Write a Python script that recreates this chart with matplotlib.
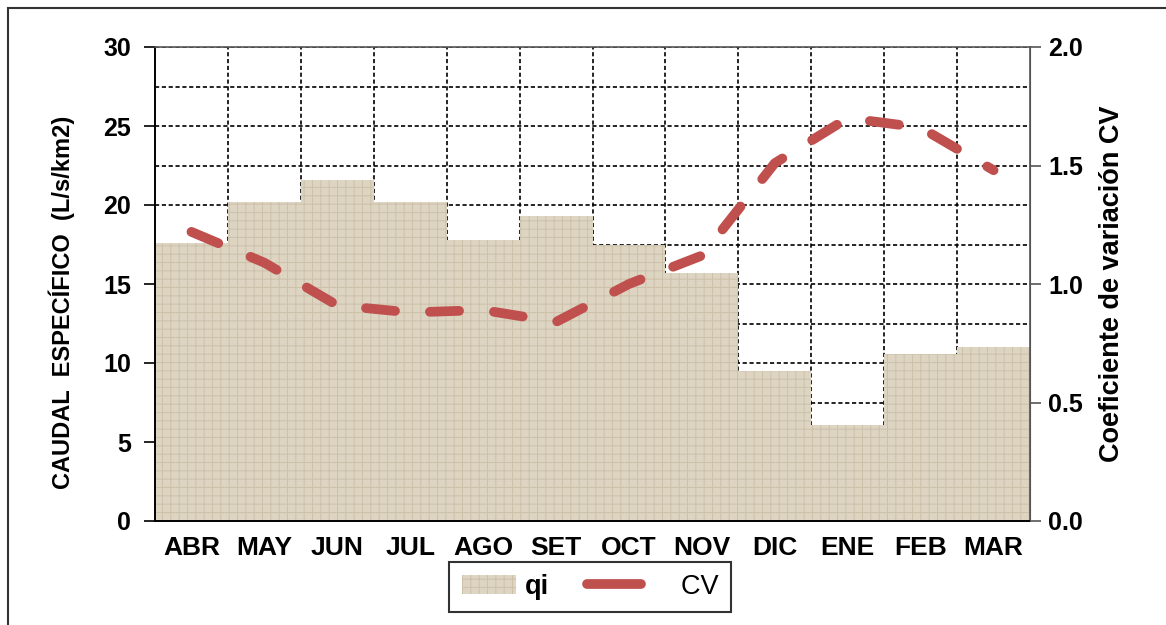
import numpy as np
import matplotlib
matplotlib.use("Agg")
import matplotlib.pyplot as plt
from matplotlib.lines import Line2D
from matplotlib.patches import Patch, Rectangle

plt.rcParams['font.family'] = ['Liberation Sans', 'DejaVu Sans']
plt.rcParams['hatch.linewidth'] = 0.7

# data
months = ['ABR', 'MAY', 'JUN', 'JUL', 'AGO', 'SET', 'OCT', 'NOV', 'DIC', 'ENE', 'FEB', 'MAR']
qi = [17.6, 20.2, 21.6, 20.2, 17.8, 19.3, 17.5, 15.7, 9.5, 6.1, 10.6, 11.0]
cv = [1.22, 1.09, 0.91, 0.88, 0.89, 0.84, 1.00, 1.12, 1.51, 1.70, 1.66, 1.48]

BAR_COL = '#ddd4c2'
HATCH_COL = '#cdc1aa'
LINE_COL = '#c0504d'

fig = plt.figure(figsize=(11.66, 6.25), dpi=100)
ax = fig.add_axes([0.1329, 0.1664, 0.7505, 0.7584])
x = np.arange(len(months))

ax.bar(x, qi, width=1.0, color=BAR_COL, hatch='++', edgecolor=HATCH_COL,
       linewidth=0, zorder=2)
ax.set_xlim(-0.5, len(months) - 0.5)
ax.set_ylim(0, 30)
ax.set_yticks(np.arange(0, 31, 5))
ax.set_yticks(np.arange(0, 30.1, 2.5), minor=True)
ax.set_xticks(x)
ax.set_xticks(np.arange(0.5, len(months) - 1, 1), minor=True)
ax.set_xticklabels(months)

gl = dict(color='black', linestyle=(0, (2.5, 1.6)), linewidth=1.2)
ax.grid(True, which='both', axis='y', **gl)
ax.grid(True, which='minor', axis='x', **gl)
ax.grid(False, which='major', axis='x')
ax.set_axisbelow(True)

ax.tick_params(axis='y', which='major', direction='out', length=8, width=1.2,
               labelsize=18, pad=9)
ax.tick_params(axis='y', which='minor', length=0)
ax.tick_params(axis='x', which='both', length=0, labelsize=19, pad=11)
for lab in ax.get_xticklabels() + ax.get_yticklabels():
    lab.set_fontweight('bold')

for side in ['left', 'bottom']:
    ax.spines[side].set_color('black')
    ax.spines[side].set_linewidth(1.4)
for side in ['top', 'right']:
    ax.spines[side].set_color('#555555')
    ax.spines[side].set_linewidth(1.2)

ax.set_ylabel('CAUDAL  ESPECÍFICO  (L/s/km2)', fontsize=17, fontweight='bold')
ax.yaxis.set_label_coords(-0.091, 0.462)

ax2 = ax.twinx()
ax2.plot(x, cv, color=LINE_COL, linewidth=7, linestyle=(0, (3.0, 3.6)),
         dash_capstyle='round', solid_capstyle='round')
ax2.set_ylim(0, 2.0)
ax2.set_yticks(np.arange(0, 2.01, 0.5))
ax2.set_yticklabels([f'{v:.1f}' for v in np.arange(0, 2.01, 0.5)])
ax2.tick_params(axis='y', direction='out', length=8, width=1.2, color='#555555',
                labelsize=18, pad=5)
for lab in ax2.get_yticklabels():
    lab.set_fontweight('bold')
for side in ['left', 'bottom', 'top']:
    ax2.spines[side].set_visible(False)
ax2.spines['right'].set_color('#555555')
ax2.set_ylabel('Coeficiente de variación CV', fontsize=19.5, fontweight='bold')
ax2.yaxis.set_label_coords(1.079, 0.50)

handles = [Patch(facecolor=BAR_COL, hatch='++', edgecolor=HATCH_COL, linewidth=0),
           Line2D([0], [0], color=LINE_COL, linewidth=7, solid_capstyle='round')]
leg = fig.legend(handles, ['qi', '    CV'], ncol=2, loc='center',
                 bbox_to_anchor=(0.506, 0.061), frameon=True, fancybox=False,
                 edgecolor='black', fontsize=19.5, handlelength=2.0,
                 handletextpad=0.35, columnspacing=1.4, borderpad=0.45,
                 borderaxespad=0)
leg.get_frame().set_linewidth(1.5)
leg.get_texts()[0].set_fontweight('bold')

# outer chart frame (only top and left visible in the crop)
fig.patches.append(Rectangle((0.007, -0.05), 1.2, 1.037, transform=fig.transFigure,
                             fill=False, edgecolor='#333333', linewidth=1.5))

fig.savefig('out.png', dpi=100)
